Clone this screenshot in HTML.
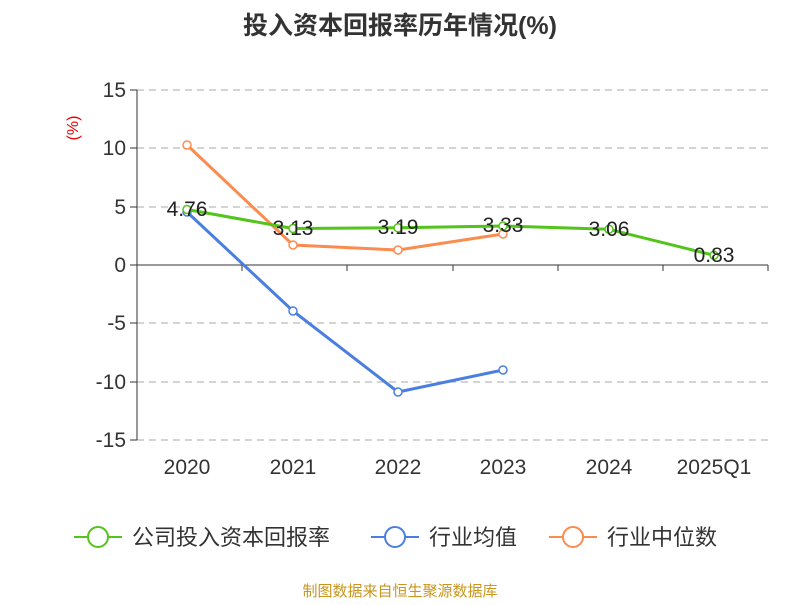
<!DOCTYPE html>
<html><head><meta charset="utf-8"><style>
body{margin:0;background:#fff;width:800px;height:600px;overflow:hidden}
text{font-family:"Liberation Sans","Noto Sans CJK SC",sans-serif}
</style></head><body>
<svg width="800" height="600" xmlns="http://www.w3.org/2000/svg">
<text x="400" y="34" text-anchor="middle" font-size="25" font-weight="bold" fill="#333">投入资本回报率历年情况(%)</text>
<text x="78" y="128" font-size="16" fill="#e00" transform="rotate(-90 78 128)" text-anchor="middle">(%)</text>
<g stroke="#bbb" stroke-dasharray="7,5" stroke-width="1.2">
<line x1="137" y1="90" x2="768" y2="90"/><line x1="137" y1="148" x2="768" y2="148"/><line x1="137" y1="207" x2="768" y2="207"/>
<line x1="137" y1="323" x2="768" y2="323"/><line x1="137" y1="382" x2="768" y2="382"/><line x1="137" y1="440" x2="768" y2="440"/>
</g>
<line x1="137" y1="90" x2="137" y2="440" stroke="#333"/>
<line x1="137" y1="265" x2="768" y2="265" stroke="#333"/>
<g stroke="#333">
<line x1="130" y1="90" x2="137" y2="90"/><line x1="130" y1="148" x2="137" y2="148"/><line x1="130" y1="207" x2="137" y2="207"/><line x1="130" y1="265" x2="137" y2="265"/><line x1="130" y1="323" x2="137" y2="323"/><line x1="130" y1="382" x2="137" y2="382"/><line x1="130" y1="440" x2="137" y2="440"/>
<line x1="137" y1="265" x2="137" y2="271"/><line x1="242" y1="265" x2="242" y2="271"/><line x1="347" y1="265" x2="347" y2="271"/><line x1="453" y1="265" x2="453" y2="271"/><line x1="558" y1="265" x2="558" y2="271"/><line x1="663" y1="265" x2="663" y2="271"/><line x1="768" y1="265" x2="768" y2="271"/>
</g>
<g font-size="21" fill="#333" text-anchor="end">
<text x="126" y="97">15</text><text x="126" y="155">10</text><text x="126" y="214">5</text><text x="126" y="272">0</text><text x="126" y="330">-5</text><text x="126" y="389">-10</text><text x="126" y="447">-15</text>
</g>
<g font-size="21" fill="#333" text-anchor="middle">
<text x="187" y="474">2020</text><text x="293" y="474">2021</text><text x="398" y="474">2022</text><text x="503" y="474">2023</text><text x="609" y="474">2024</text><text x="714" y="474">2025Q1</text>
</g>
<polyline points="187,212 293,311 398,392 503,370" fill="none" stroke="#4a7fe0" stroke-width="3"/>
<polyline points="187,145 293,245 398,250 503,234" fill="none" stroke="#fa8c50" stroke-width="3"/>
<polyline points="187,209.5 293,228.5 398,227.8 503,226 609,229.3 714,255.3" fill="none" stroke="#52c41a" stroke-width="3"/>
<g fill="#fff" stroke-width="1.5">
<g stroke="#4a7fe0"><circle cx="187" cy="212" r="4"/><circle cx="293" cy="311" r="4"/><circle cx="398" cy="392" r="4"/><circle cx="503" cy="370" r="4"/></g>
<g stroke="#fa8c50"><circle cx="187" cy="145" r="4"/><circle cx="293" cy="245" r="4"/><circle cx="398" cy="250" r="4"/><circle cx="503" cy="234" r="4"/></g>
<g stroke="#52c41a"><circle cx="187" cy="209.5" r="4"/><circle cx="293" cy="228.5" r="4"/><circle cx="398" cy="227.8" r="4"/><circle cx="503" cy="226" r="4"/><circle cx="609" cy="229.3" r="4"/><circle cx="714" cy="255.3" r="4"/></g>
</g>
<g font-size="21" fill="#222" text-anchor="middle">
<text x="187" y="216">4.76</text><text x="293" y="235">3.13</text><text x="398" y="234">3.19</text><text x="503" y="232">3.33</text><text x="609" y="236">3.06</text><text x="714" y="262">0.83</text>
</g>
<g stroke-width="2" fill="#fff">
<line x1="74" y1="537" x2="122" y2="537" stroke="#52c41a"/><circle cx="98" cy="537" r="10" stroke="#52c41a"/>
<line x1="371" y1="537" x2="419" y2="537" stroke="#4a7fe0"/><circle cx="395" cy="537" r="10" stroke="#4a7fe0"/>
<line x1="549" y1="537" x2="597" y2="537" stroke="#fa8c50"/><circle cx="573" cy="537" r="10" stroke="#fa8c50"/>
</g>
<g font-size="22" fill="#333">
<text x="132" y="545">公司投入资本回报率</text><text x="429" y="545">行业均值</text><text x="607" y="545">行业中位数</text>
</g>
<text x="400" y="596" text-anchor="middle" font-size="15" fill="#c8961e">制图数据来自恒生聚源数据库</text>
</svg>
</body></html>
